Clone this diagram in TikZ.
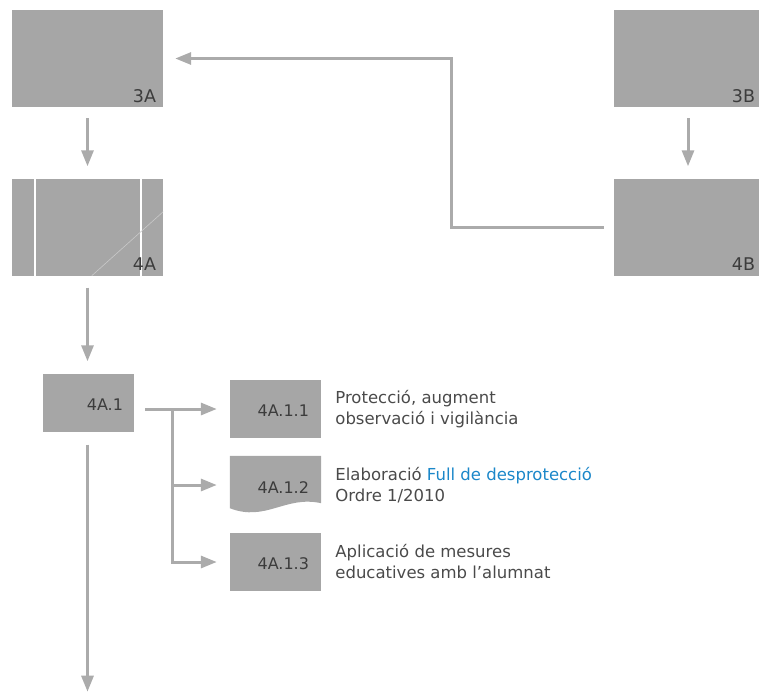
\documentclass[tikz,border=0pt]{standalone}
\usepackage{fontspec}
\setmainfont{DejaVu Sans}
\usepackage{tikz}
\usetikzlibrary{calc,arrows.meta}
\definecolor{boxgray}{HTML}{A6A6A6}
\definecolor{linegray}{HTML}{ABABAB}
\definecolor{cutgray}{HTML}{C9C9C9}
\definecolor{labelgray}{HTML}{3C3C3C}
\definecolor{textgray}{HTML}{4A4A4A}
\definecolor{linkblue}{HTML}{1B87C9}
\tikzset{
  box/.style={rectangle, fill=boxgray, inner sep=0pt, minimum width=91pt, minimum height=58pt},
  bigbox/.style={box, minimum width=151pt, minimum height=97pt},
  tag/.style={text=labelgray, inner sep=0pt, font=\fontsize{16}{19}\selectfont},
  bigtag/.style={tag, font=\fontsize{17.5}{20}\selectfont},
  note/.style={text=textgray, inner sep=0pt, anchor=west, align=left, font=\fontsize{16.5}{21}\selectfont},
  flow/.style={color=linegray, line width=3pt, -{Triangle[length=16pt,width=12pt]}},
  link/.style={color=linegray, line width=3pt}
}

\begin{document}
\begin{tikzpicture}[x=1pt,y=-1pt]
\useasboundingbox (0,0) rectangle (759,693);

% -------- column A ---------
\node[bigbox] (b3A) at (87.5,58.5) {};
\node[bigtag, anchor=base east] (t3A) at ($ (b3A.south east) + (-7,-5) $) {3A};
\node[bigbox] (b4A) at (87.5,227) {};
% the two white cuts and the faint fold line on 4A
\draw[white, line width=2pt] ($ (b4A.north west) + (23,0) $) -- ($ (b4A.south west) + (23,0) $);
\draw[white, line width=2pt] ($ (b4A.north west) + (129,0) $) -- ($ (b4A.south west) + (129,0) $);
\draw[cutgray, line width=0.6pt] ($ (b4A.south west) + (80,0) $) -- ($ (b4A.south east) + (0,-64) $);
\node[bigtag, anchor=base east] (t4A) at ($ (b4A.south east) + (-7,-5) $) {4A};
\draw[flow, shorten <=11pt, shorten >=12pt] (b3A) -- (b4A);
% ------ end column A ------

% -------- column B ---------
\node[bigbox, minimum width=148pt] (b3B) at (688,58.5) {};
\node[bigtag, anchor=base east] (t3B) at ($ (b3B.south east) + (-7,-5) $) {3B};
\node[bigbox, minimum width=148pt] (b4B) at (688,227) {};
\node[bigtag, anchor=base east] (t4B) at ($ (b4B.south east) + (-7,-5) $) {4B};
\draw[flow, shorten <=11pt, shorten >=12pt] (b3B) -- (b4B);
% ------ end column B ------

% the way back from 4B to 3A
\coordinate (elbow) at ($ (b3A.east) + (288,0) $);
\draw[flow, shorten <=10pt, shorten >=12pt] (b4B.west) -| (elbow) -- (b3A.east);

% -------- 4A.1 and its three steps ---------
\node[box] (b4A1) at (88.5,402.5) {};
\node[tag, anchor=base east] (t4A1) at ($ (b4A1.east) + (-11,7.5) $) {4A.1};
\draw[flow, shorten <=12pt, shorten >=12pt] (b4A.south) -- (b4A.south |- b4A1.north);
\coordinate (exit) at ($ (b4A1.south) + (-1,260) $);
\draw[flow, shorten <=13pt] (b4A1.south -| exit) -- (exit);

\node[box] (b4A11) at (275.5,409) {};
\node[tag, anchor=base east] (t4A11) at ($ (b4A11.east) + (-12,7) $) {4A.1.1};

\node[box, fill=none] (b4A12) at (275.5,485) {}; % document shape, wavy bottom
\fill[boxgray] (b4A12.north west) -- (b4A12.north east) -- ($ (b4A12.south east) + (0,-11) $)
  .. controls ($ (b4A12.south east) + (-36,-19) $) and ($ (b4A12.south west) + (36,8) $) .. ($ (b4A12.south west) + (0,-6) $) -- cycle;
\node[tag, anchor=base east] (t4A12) at ($ (b4A12.north east) + (-12,38) $) {4A.1.2};

\node[box] (b4A13) at (275.5,562) {};
\node[tag, anchor=base east] (t4A13) at ($ (b4A13.east) + (-12,7) $) {4A.1.3};

\coordinate (fork) at ($ (b4A11.west) + (-57,0) $);
\draw[link, shorten <=11pt] (b4A1.east |- fork) -- (fork);
\draw[flow, shorten >=13pt] (fork) -- (b4A11.west);
\draw[flow, shorten >=13pt] (fork |- b4A12.west) -- (b4A12.west);
\draw[flow, shorten >=13pt] (fork) |- (b4A13.west);

\node[note] (n4A11) at ($ (b4A11.east) + (14,0) $) {Protecció, augment\\observació i vigilància};
\node[note] (n4A12) at ($ (b4A12.east) + (14,0) $) {Elaboració \textcolor{linkblue}{Full de desprotecció}\\Ordre 1/2010};
\node[note] (n4A13) at ($ (b4A13.east) + (14,0) $) {Aplicació de mesures\\educatives amb l’alumnat};
% ------ end 4A.1 ------
\end{tikzpicture}
\end{document}
